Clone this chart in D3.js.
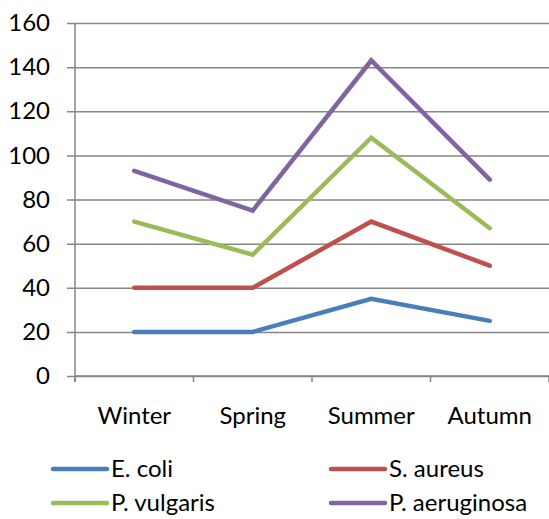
<!DOCTYPE html>
<html>
<head>
<meta charset="utf-8">
<script src="https://cdn.jsdelivr.net/npm/d3@7"></script>
<style>
  html, body { margin: 0; padding: 0; background: #fff; }
  svg { display: block; }
  text { font-family: Lato, "Open Sans", sans-serif; fill: #000; }
</style>
</head>
<body>
<svg id="chart" width="549" height="519"></svg>
<script>
// Seasonal counts per organism
const seasons = ["Winter", "Spring", "Summer", "Autumn"];
const seriesNames = ["E. coli", "S. aureus", "P. vulgaris", "P. aeruginosa"];
const eColi = [20, 20, 35, 25];
const sAureus = [40, 40, 70, 50];
const pVulgaris = [70, 55, 108, 67];
const pAeruginosa = [93, 75, 143, 89];
const seriesColors = ["#4A7EBB", "#C0504D", "#9BBB59", "#8064A2"];
const yTicks = [0, 20, 40, 60, 80, 100, 120, 140, 160];

const seriesValues = [eColi, sAureus, pVulgaris, pAeruginosa];
const series = seriesNames.map((name, i) => ({ name, color: seriesColors[i], values: seriesValues[i] }));

const svg = d3.select("#chart");
const plot = { left: 75, right: 549, top: 23, bottom: 376 };

const x = d3.scaleBand().domain(seasons).range([plot.left, plot.right]);
const y = d3.scaleLinear().domain([0, 160]).range([plot.bottom, plot.top]);

const gridColor = "#868686";
const fontSize = 24;

// Horizontal gridlines with small outside ticks
const yAxis = d3.axisLeft(y).tickValues(yTicks).tickSize(-(plot.right - plot.left)).tickPadding(25);
const gy = svg.append("g").attr("transform", `translate(${plot.left},0)`).call(yAxis);
gy.select(".domain").remove();
gy.selectAll(".tick line")
  .attr("x1", -8)
  .attr("stroke", gridColor)
  .attr("stroke-width", 1.5);
gy.selectAll(".tick text")
  .attr("font-size", fontSize)
  .attr("font-family", "Lato, 'Open Sans', sans-serif")
  .attr("fill", "#000");

// Vertical axis line
svg.append("line")
  .attr("x1", plot.left).attr("x2", plot.left)
  .attr("y1", y(160)).attr("y2", plot.bottom + 6)
  .attr("stroke", gridColor).attr("stroke-width", 1.5);

// Category axis with tick marks at band boundaries
const gx = svg.append("g").attr("transform", `translate(0,${plot.bottom})`);
gx.append("line")
  .attr("x1", plot.left).attr("x2", plot.right)
  .attr("stroke", gridColor).attr("stroke-width", 1.5);
const boundaries = seasons.map(s => x(s)).concat([plot.right]);
gx.selectAll("line.tk").data(boundaries).join("line").attr("class", "tk")
  .attr("x1", d => d).attr("x2", d => d)
  .attr("y1", 0).attr("y2", 6)
  .attr("stroke", gridColor).attr("stroke-width", 1.5);
gx.selectAll("text").data(seasons).join("text")
  .attr("x", d => x(d) + x.bandwidth() / 2)
  .attr("y", 48)
  .attr("text-anchor", "middle")
  .attr("font-size", fontSize)
  .text(d => d);

// Series lines
const line = d3.line()
  .x((d, i) => x(seasons[i]) + x.bandwidth() / 2)
  .y(d => y(d));

svg.append("g").selectAll("path").data(series).join("path")
  .attr("d", d => line(d.values))
  .attr("fill", "none")
  .attr("stroke", d => d.color)
  .attr("stroke-width", 4.5)
  .attr("stroke-linecap", "round")
  .attr("stroke-linejoin", "miter");

// Legend in two columns
const legendPos = [
  { x: 53, y: 469 }, { x: 331, y: 469 },
  { x: 53, y: 503 }, { x: 331, y: 503 }
];
const lg = svg.append("g").selectAll("g").data(series).join("g")
  .attr("transform", (d, i) => `translate(${legendPos[i].x},${legendPos[i].y})`);
lg.append("line")
  .attr("x1", 0).attr("x2", 54)
  .attr("stroke", d => d.color)
  .attr("stroke-width", 4.5)
  .attr("stroke-linecap", "round");
lg.append("text")
  .attr("x", 58)
  .attr("dy", "0.35em")
  .attr("font-size", fontSize)
  .text(d => d.name);
</script>
</body>
</html>
